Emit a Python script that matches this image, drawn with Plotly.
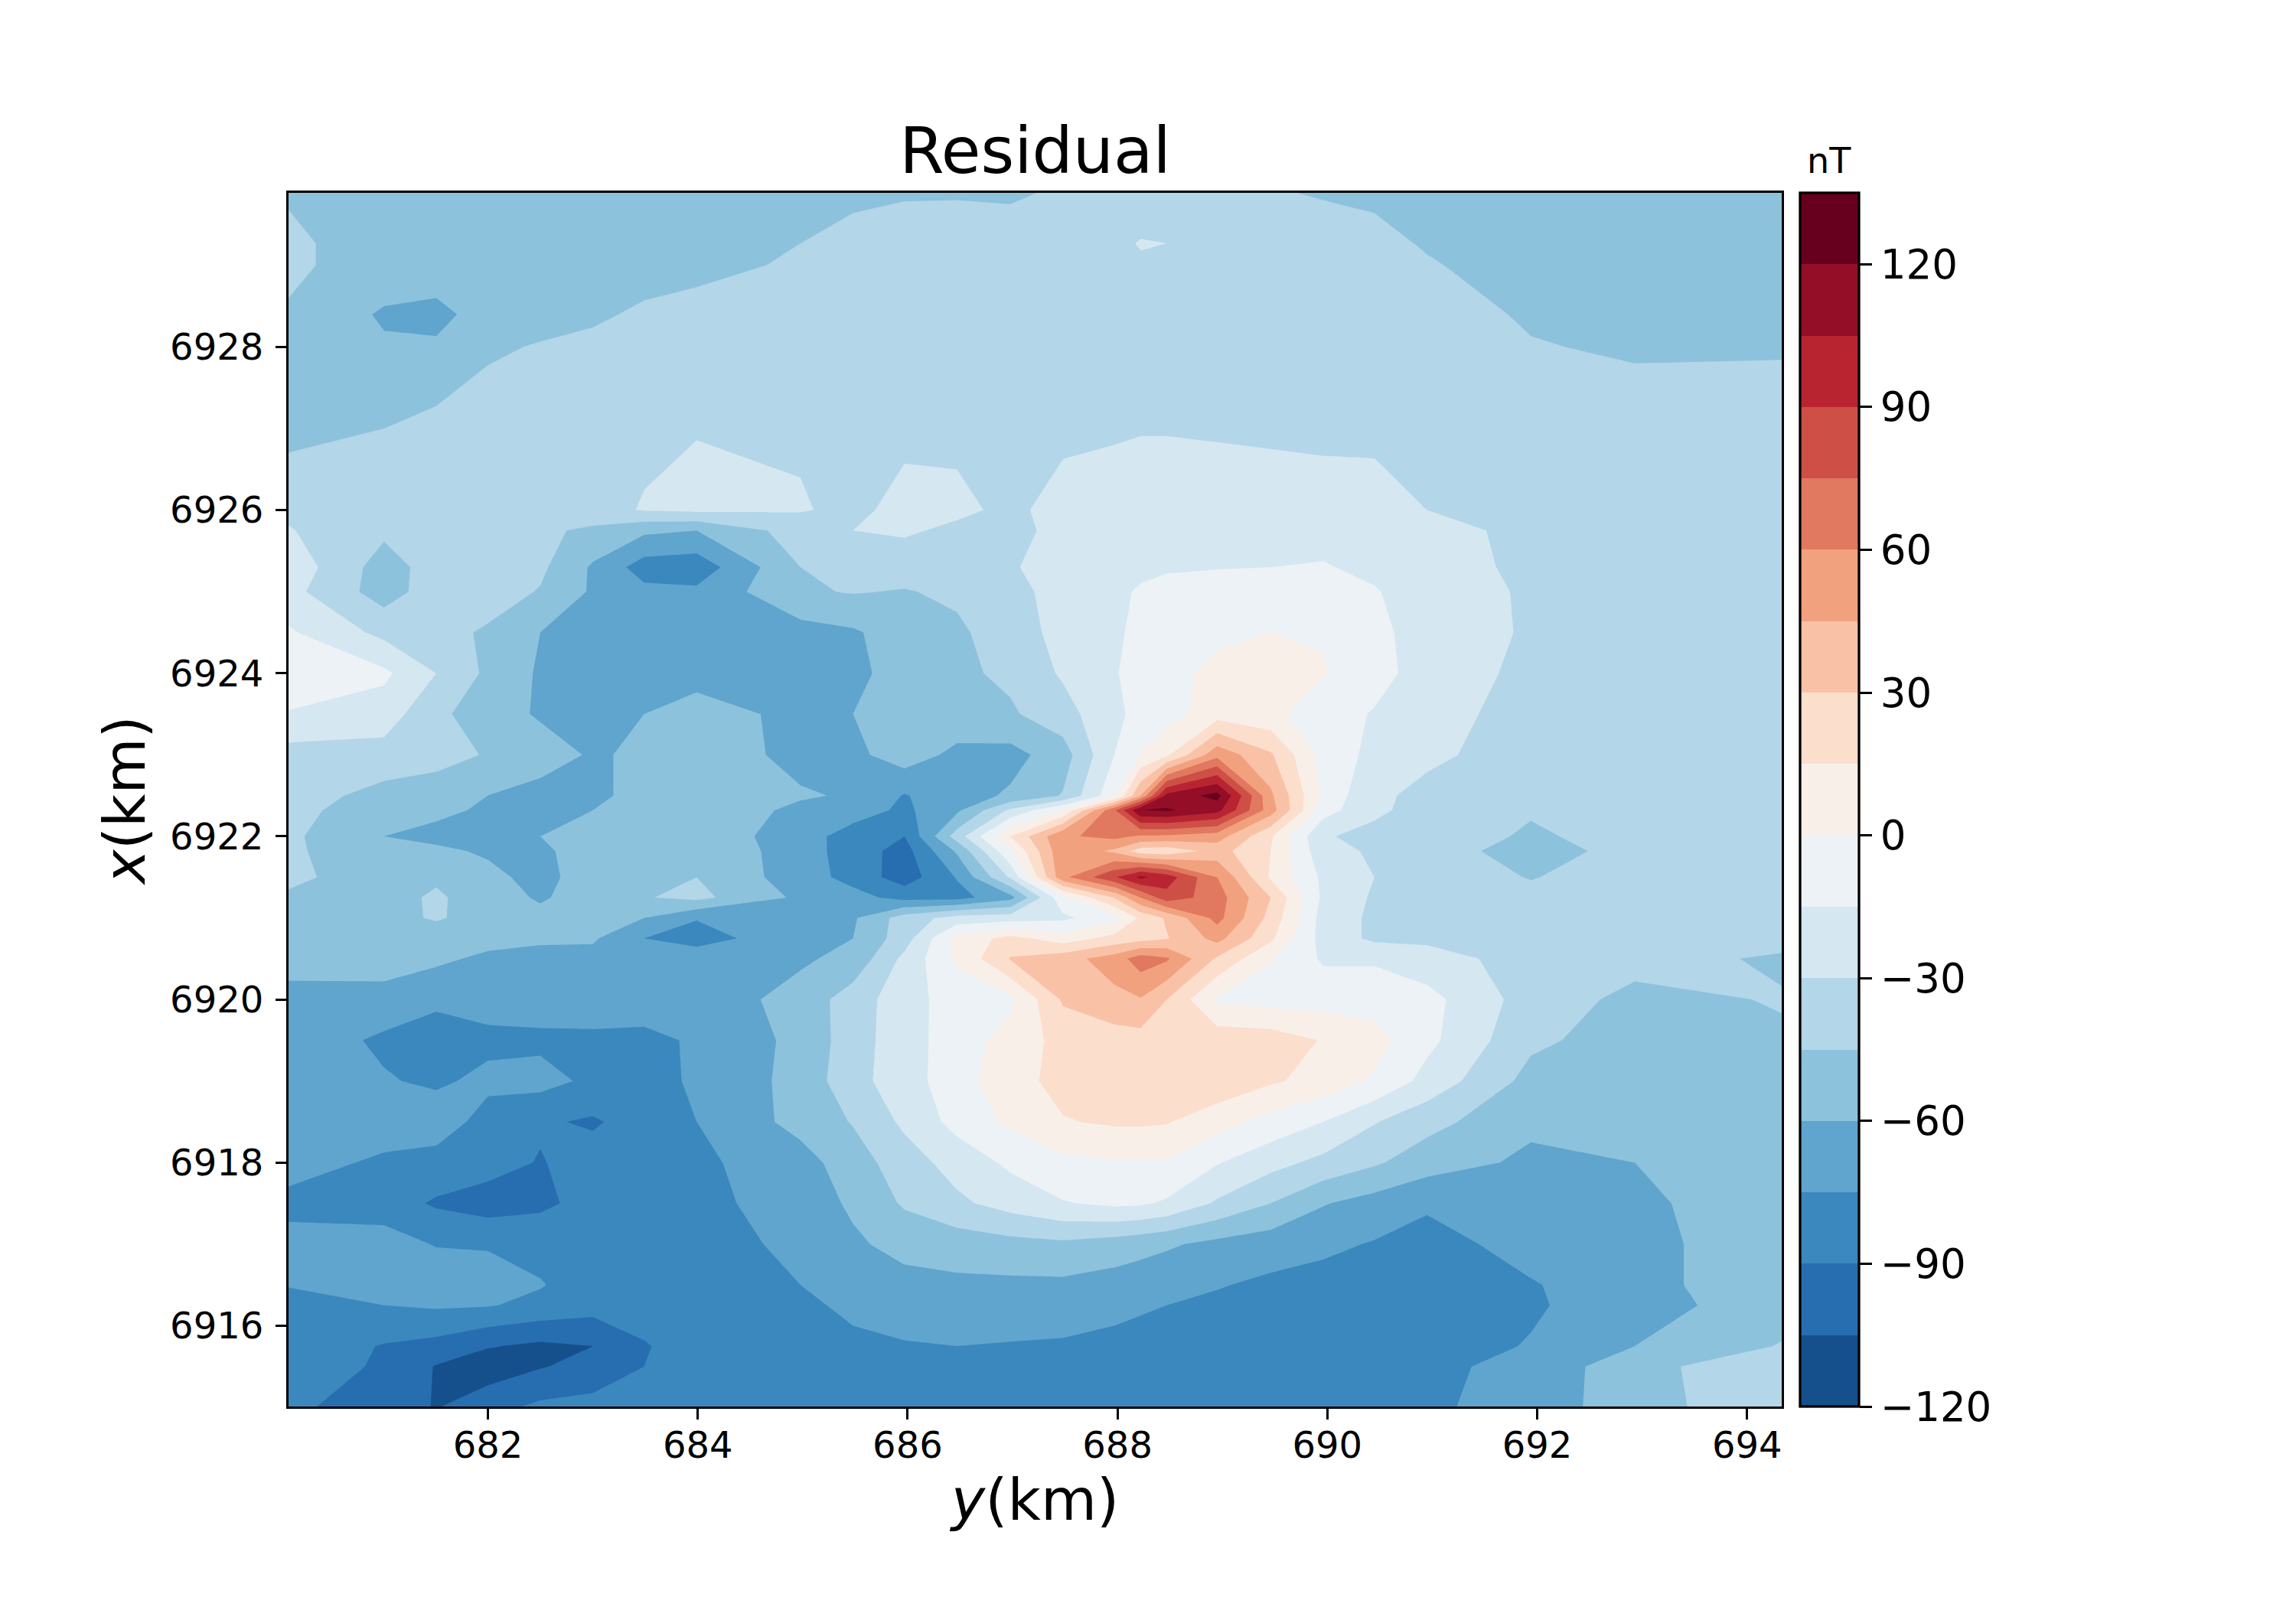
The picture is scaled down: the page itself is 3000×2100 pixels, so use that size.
import plotly.graph_objects as go
from plotly.colors import sample_colorscale

y_km = [680.10,681.01,681.51,682,682.50,683.00,683.49,683.99,684.98,685.48,685.97,686.47,686.98,687.48,687.97,688.22,688.47,688.95,689.46,689.96,690.45,690.95,691.94,692.93,694.33]
x_km = [6915.01,6915.5,6915.75,6916.25,6916.5,6917,6917.5,6918,6918.5,6919,6919.5,6920,6920.5,6920.75,6921,6921.25,6921.5,6921.82,6922,6922.32,6922.5,6923,6923.5,6924,6924.5,6925,6925.3,6925.75,6926,6927,6928,6928.4,6929,6929.27,6929.89]
residual = [
[-87,-97,-106,-96,-87,-85,-84,-83,-81,-80,-80,-80,-80,-80,-80,-80,-80,-80,-80,-80,-79,-77,-70,-50,-36],
[-82,-92,-106,-113,-106,-100,-90,-85,-81,-80,-79,-79,-79,-79,-79,-79,-79,-79,-79,-79,-79,-78,-71,-50,-34],
[-80,-91,-95,-104,-108,-105,-91,-84,-79,-78,-76,-75,-76,-77,-78,-78,-78,-79,-80,-81,-81,-82,-74,-60,-44],
[-82,-75,-73,-74,-79,-84,-84,-82,-78,-72,-69,-68,-67,-67,-72,-74,-75,-78,-81,-83,-85,-86,-77,-66,-52],
[-74,-64,-63,-65,-74,-83,-84,-82,-75,-67,-64,-63,-63,-63,-66,-68,-70,-74,-78,-80,-82,-84,-76,-67,-46],
[-69,-68,-76,-77,-80,-84,-86,-84,-70,-62,-56,-53,-50,-48,-52,-55,-58,-64,-68,-72,-76,-80,-70,-67,-46],
[-80,-83,-92,-97,-93,-85,-82,-80,-67,-58,-43,-33,-24,-16,-12,-13,-17,-32,-45,-59,-66,-73,-68,-63,-51],
[-68,-78,-80,-84,-91,-83,-80,-78,-66,-52,-37,-24,-12,-4,-1,-1,-1,-14,-25,-34,-43,-53,-63,-60,-51],
[-62,-66,-68,-80,-88,-92,-83,-75,-55,-44,-27,-10,3,14,17,17,16,6,-5,-15,-29,-40,-57,-55,-47],
[-62,-74,-77,-72,-70,-78,-80,-73,-55,-35,-22,-6,9,20,24,25,26,26,17,10,-2,-20,-50,-53,-47],
[-68,-77,-82,-78,-78,-78,-79,-73,-56,-37,-21,-8,6,20,23,24,24,24,23,14,5,-11,-42,-52,-47],
[-66,-68,-72,-70,-68,-67,-67,-68,-55,-37,-22,-7,-3,32,41,44,30,-2,-6,-6,-6,-10,-37,-49,-44],
[-53,-50,-57,-63,-64,-65,-65,-65,-62,-56,-26,2,31,39,52,68,62,28,1,-17,-17,-24,-36,-40,-47],
[-52,-49,-50,-55,-58,-58,-75,-82,-64,-60,-37,5,20,7,20,24,29,50,18,-21,-33,-33,-36,-38,-40],
[-52,-48,-44,-49,-55,-53,-60,-74,-66,-62,-38,-24,-22,-18,-5,18,32,65,25,-21,-33,-36,-37,-36,-37],
[-47,-50,-43,-52,-62,-52,-46,-41,-63,-70,-80,-80,-65,-4,31,60,84,67,30,-18,-32,-34,-39,-36,-36],
[-42,-52,-47,-56,-65,-52,-48,-45,-68,-80,-98,-74,-28,56,88,108,98,60,13,-18,-30,-33,-46,-35,-35],
[-42,-57,-57,-62,-62,-55,-50,-47,-68,-82,-96,-58,-2,57,42,22,20,36,15,-25,-32,-33,-56,-36,-36],
[-42,-60,-64,-66,-60,-57,-52,-50,-68,-82,-90,-38,15,58,64,58,57,52,17,-29,-33,-33,-48,-37,-36],
[-40,-54,-57,-62,-64,-60,-55,-54,-62,-68,-78,-63,-27,1,73,120,122,110,52,-8,-28,-34,-43,-37,-37],
[-38,-50,-52,-60,-66,-62,-57,-57,-59,-61,-76,-66,-58,-44,-4,45,110,125,48,-4,-27,-34,-42,-38,-37],
[-36,-36,-40,-46,-52,-62,-57,-54,-63,-64,-52,-64,-65,-52,-15,1,12,55,32,-6,-19,-27,-37,-38,-37],
[-16,-22,-42,-52,-62,-64,-60,-52,-65,-60,-55,-50,-47,-36,-18,-11,-6,8,4,-9,-16,-24,-36,-37,-37],
[-5,-12,-30,-48,-62,-67,-67,-67,-68,-63,-55,-48,-42,-28,-16,-10,-5,4,5,1,-10,-21,-34,-35,-37],
[-13,-34,-40,-47,-60,-63,-66,-66,-66,-62,-52,-48,-36,-26,-17,-12,-8,-3,0,-1,-12,-20,-32,-36,-37],
[-25,-52,-37,-38,-46,-62,-71,-72,-47,-44,-46,-42,-35,-24,-17,-14,-12,-10,-10,-11,-14,-22,-32,-35,-37],
[-20,-52,-38,-34,-42,-62,-82,-84,-45,-40,-38,-38,-32,-21,-18,-17,-16,-15.5,-15,-14,-18,-24,-33,-36,-37],
[-29,-42,-42,-39,-42,-48,-57,-60,-38,-30,-28,-33,-35,-25,-21,-20,-20,-20,-20,-20,-21,-26,-33,-36,-37],
[-33,-37,-38,-36,-34,-35,-29,-27,-29,-33,-26,-27,-33,-25,-22,-20,-20,-20,-21,-22,-23,-30,-34,-36,-37],
[-50,-45,-40,-38,-37,-36,-33,-30.5,-31.5,-34,-33,-33,-36,-33,-32,-31,-31,-32,-33,-34,-34,-35,-36,-37,-37],
[-50,-58,-58,-47,-44,-42,-41,-40,-38,-37,-36,-35,-35,-34,-33,-33,-33,-33,-33,-34,-35,-37,-44,-47,-46.5],
[-46,-62,-64,-54,-50,-47,-43,-40,-38,-37,-36,-35,-35,-34,-33,-33,-33,-33,-34,-35,-36,-38,-47,-52,-50],
[-43,-50,-52,-52,-52,-52,-50,-49,-43,-40,-38,-37,-36,-35,-33,-32,-32,-33,-35,-37,-40,-44,-50,-52,-52],
[-43,-50,-51,-51,-51,-51,-50,-49,-45,-42,-40,-39,-38,-37,-34,-29,-30,-35,-37,-39,-42,-46,-52,-52,-52],
[-46,-50,-50,-50,-50,-50,-50,-50,-50,-47,-46,-46,-47,-43,-40,-40,-40,-42,-44,-46,-47,-48,-52,-52,-52],
]
level_start, level_end, level_step = -120, 135, 15
y_ticks = [682,684,686,688,690,692,694]
x_ticks = [6916,6918,6920,6922,6924,6926,6928]

W, H = 3000, 2100
OFF = 8
L, R, T, B = 377 - OFF, 2328 - OFF, 252 - OFF, 1838 - OFF
FONT = "DejaVu Sans"

n = (level_end - level_start) // level_step
mids = [level_start + level_step * (i + 0.5) for i in range(n)]
vmax = mids[-1]
cols = sample_colorscale("RdBu_r", [(m + vmax) / (2 * vmax) for m in mids])
cscale = []
for i, c in enumerate(cols):
    cscale += [[i / n, c], [(i + 1) / n, c]]

fig = go.Figure(go.Contour(
    x=y_km, y=x_km, z=residual,
    zmin=level_start, zmax=level_end, colorscale=cscale,
    autocontour=False,
    contours=dict(start=level_start, end=level_end, size=level_step, coloring="fill", showlines=False),
    line=dict(width=0, smoothing=0),
    hoverinfo="skip",
    colorbar=dict(
        x=(2352 - OFF) / W, xanchor="left", xpad=0, ypad=0,
        y=1 - B / H, yanchor="bottom", len=(B - T) / H, lenmode="fraction",
        thickness=77, thicknessmode="pixels",
        outlinewidth=3.3, outlinecolor="black",
        tick0=-120, dtick=30, ticks="outside", ticklen=16, tickwidth=3.3, tickcolor="black",
        tickfont=dict(family=FONT, size=53, color="black"),
    ),
))

axis = dict(showgrid=False, zeroline=False, showline=True, mirror=True, linecolor="black", linewidth=3.3,
            ticks="outside", ticklen=14, tickwidth=3.3, tickcolor="black",
            tickfont=dict(family=FONT, size=48, color="black"), automargin=False)

fig.update_layout(
    width=W, height=H, margin=dict(l=0, r=0, t=0, b=0),
    paper_bgcolor="white", plot_bgcolor="white",
    title=dict(text="Residual", x=(L + R) / 2 / W, xanchor="center", y=1 - (197 - OFF) / H, yanchor="middle",
               font=dict(family=FONT, size=84, color="black")),
    xaxis=dict(axis, domain=[L / W, R / W], range=[680.10, 694.33], tickvals=y_ticks, ticklabelstandoff=-8,
               title=dict(text="<i>y</i>(km)", standoff=12, font=dict(family=FONT, size=75, color="black"))),
    yaxis=dict(axis, domain=[1 - B / H, 1 - T / H], range=[6915.01, 6929.89], tickvals=x_ticks, ticklabelstandoff=6,
               title=dict(text="<i>x</i>(km)", standoff=8, font=dict(family=FONT, size=75, color="black"))),
    annotations=[dict(text="nT", xref="paper", yref="paper", x=(2390 - OFF) / W, y=1 - (210 - OFF) / H,
                      xanchor="center", yanchor="middle", showarrow=False,
                      font=dict(family=FONT, size=46, color="black"))],
)
fig.write_html("out.html")
